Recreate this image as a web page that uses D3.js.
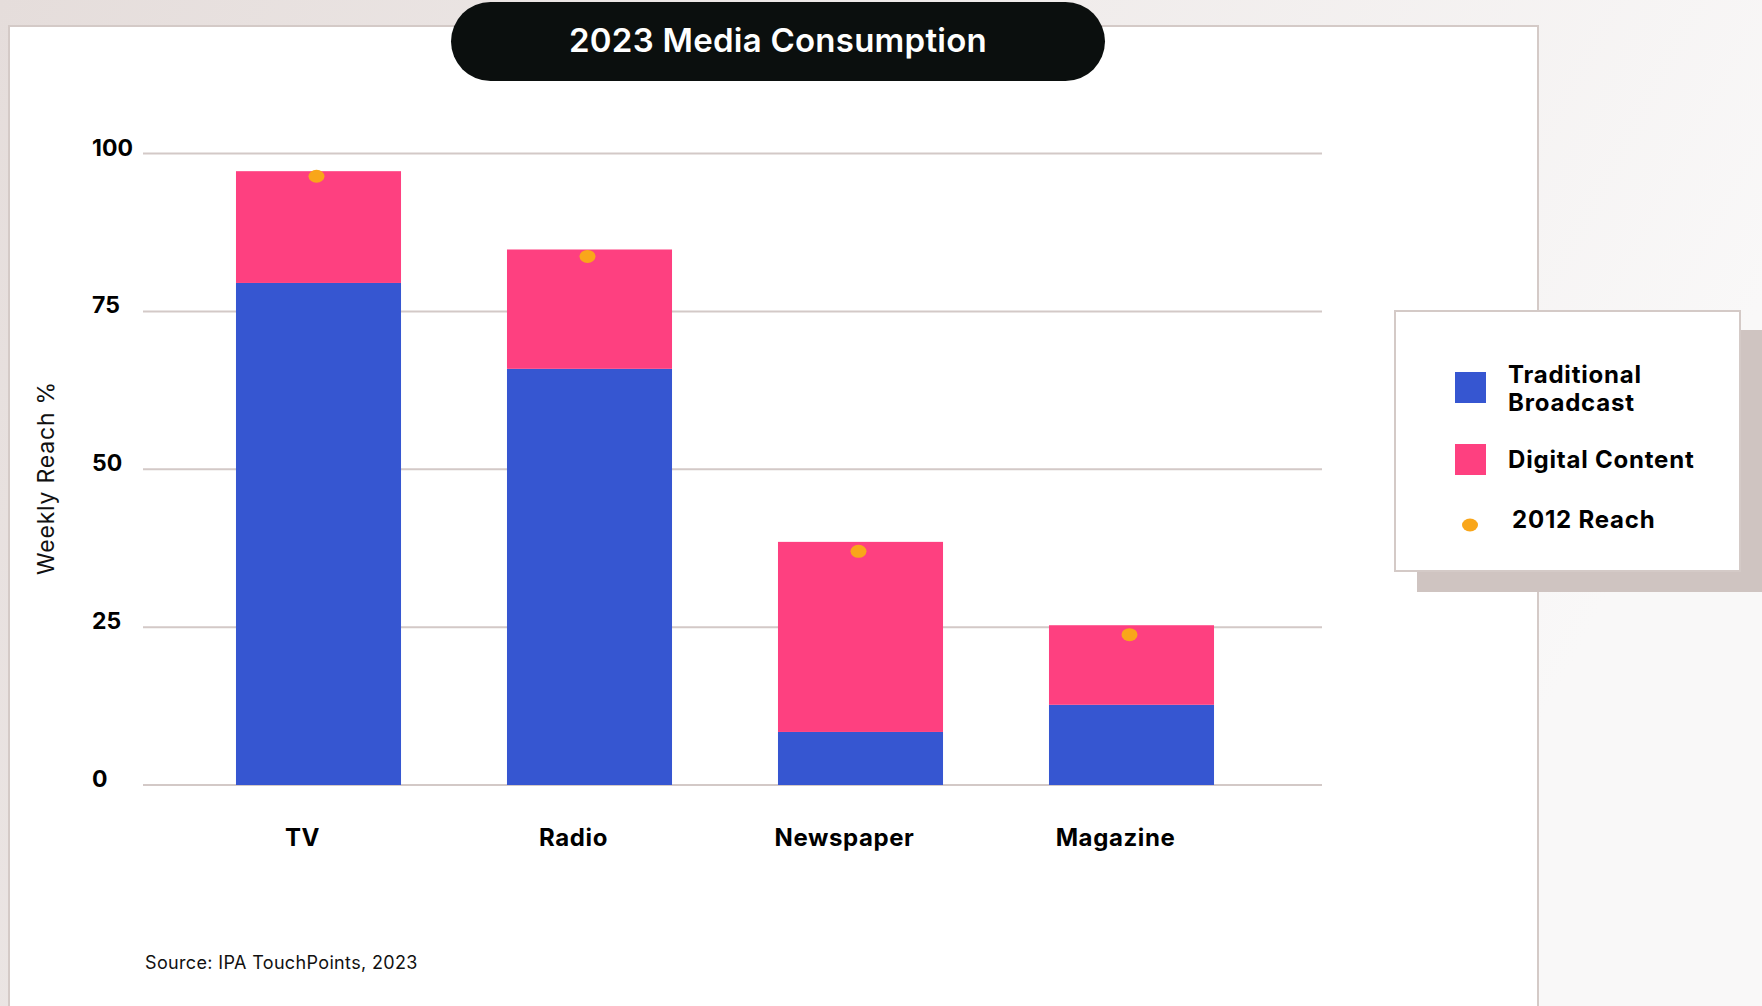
<!DOCTYPE html>
<html>
<head>
<meta charset="utf-8">
<script src="https://cdn.jsdelivr.net/npm/d3@7"></script>
<style>
  html, body { margin: 0; padding: 0; }
  body { width: 1762px; height: 1006px; overflow: hidden; }
  svg { display: block; }
</style>
</head>
<body>
<svg id="chart" width="1762" height="1006"></svg>
<script>
// Weekly reach by medium, 2023 (percent)
const categories = ["TV", "Radio", "Newspaper", "Magazine"];
const traditional = [79.5, 65.9, 8.4, 12.7];
const digital = [17.7, 18.9, 30.1, 12.6];
const reach2012 = [96.4, 83.7, 37.0, 23.8];
const yTicks = [0, 25, 50, 75, 100];
const seriesNames = ["Traditional Broadcast", "Digital Content", "2012 Reach"];

const colors = { traditional: "#3656D1", digital: "#FE4080", dot: "#F9A61A", grid: "#D3C9C7" };
const FONT = "Inter, 'Noto Sans', sans-serif";

const svg = d3.select("#chart");

// page background gradient
const defs = svg.append("defs");
const bg = defs.append("linearGradient").attr("id", "bg").attr("x1", "0").attr("y1", "0").attr("x2", "1").attr("y2", "0.3");
bg.append("stop").attr("offset", "0").attr("stop-color", "#E5DDDB");
bg.append("stop").attr("offset", "1").attr("stop-color", "#F9F8F8");
svg.append("rect").attr("width", 1762).attr("height", 1006).attr("fill", "url(#bg)");

// white card
svg.append("rect").attr("x", 9).attr("y", 26).attr("width", 1529).attr("height", 1000)
  .attr("fill", "#fff").attr("stroke", "#D4CAC7").attr("stroke-width", 2);

// title pill
svg.append("rect").attr("x", 451).attr("y", 2).attr("width", 654).attr("height", 79)
  .attr("rx", 39.5).attr("fill", "#0B0F0E");
svg.append("text").attr("x", 778).attr("y", 52).attr("text-anchor", "middle")
  .attr("font-family", FONT).attr("font-weight", 600).attr("font-size", 33)
  .attr("letter-spacing", 0.25).attr("fill", "#fff")
  .text("2023 Media Consumption");

// scales
const x = d3.scaleBand().domain(categories).range([183, 1267]).paddingInner(0.391).paddingOuter(0.1955);
const y = d3.scaleLinear().domain([0, 100]).range([785, 153.5]);

// gridlines
svg.append("g").selectAll("line").data(yTicks).join("line")
  .attr("x1", 143).attr("x2", 1322)
  .attr("y1", d => y(d)).attr("y2", d => y(d))
  .attr("stroke", colors.grid).attr("stroke-width", 2);

// y tick labels
svg.append("g").selectAll("text").data(yTicks).join("text")
  .attr("x", 92).attr("y", d => y(d) + 2)
  .attr("font-family", FONT).attr("font-weight", 700).attr("font-size", 23).attr("fill", "#000")
  .text(d => d);

// y axis title
svg.append("text").attr("transform", "translate(54,478) rotate(-90)").attr("text-anchor", "middle")
  .attr("font-family", FONT).attr("font-size", 23).attr("letter-spacing", 0.8).attr("fill", "#111")
  .text("Weekly Reach %");

// stacked bars
const rows = categories.map((c, i) => ({ cat: c, trad: traditional[i], dig: digital[i], prev: reach2012[i] }));
const barG = svg.append("g");
barG.selectAll("rect.trad").data(rows).join("rect").attr("class", "trad")
  .attr("x", d => x(d.cat)).attr("width", x.bandwidth())
  .attr("y", d => y(d.trad)).attr("height", d => y(0) - y(d.trad))
  .attr("fill", colors.traditional);
barG.selectAll("rect.dig").data(rows).join("rect").attr("class", "dig")
  .attr("x", d => x(d.cat)).attr("width", x.bandwidth())
  .attr("y", d => y(d.trad + d.dig)).attr("height", d => y(d.trad) - y(d.trad + d.dig))
  .attr("fill", colors.digital);

// 2012 reach markers
barG.selectAll("ellipse").data(rows).join("ellipse")
  .attr("cx", d => x(d.cat) + x.bandwidth() / 2 - 2).attr("cy", d => y(d.prev))
  .attr("rx", 8).attr("ry", 6.5).attr("fill", colors.dot);

// category labels
svg.append("g").selectAll("text").data(categories).join("text")
  .attr("x", d => x(d) + x.bandwidth() / 2 - 16).attr("y", 846).attr("text-anchor", "middle")
  .attr("font-family", FONT).attr("font-weight", 700).attr("font-size", 24)
  .attr("letter-spacing", 0.6).attr("fill", "#000")
  .text(d => d);

// source note
svg.append("text").attr("x", 145).attr("y", 969)
  .attr("font-family", FONT).attr("font-size", 18).attr("letter-spacing", 0.35).attr("fill", "#111")
  .text("Source: IPA TouchPoints, 2023");

// legend with offset shadow
const lg = svg.append("g");
lg.append("rect").attr("x", 1417).attr("y", 330).attr("width", 360).attr("height", 262).attr("fill", "#CFC4C1");
lg.append("rect").attr("x", 1395).attr("y", 311).attr("width", 345).attr("height", 260)
  .attr("fill", "#fff").attr("stroke", "#D4CAC7").attr("stroke-width", 2);
lg.append("rect").attr("x", 1455).attr("y", 372).attr("width", 31).attr("height", 31).attr("fill", colors.traditional);
lg.append("rect").attr("x", 1455).attr("y", 444).attr("width", 31).attr("height", 31).attr("fill", colors.digital);
lg.append("ellipse").attr("cx", 1470).attr("cy", 525).attr("rx", 8).attr("ry", 6.5).attr("fill", colors.dot);
const lt = lg.append("g").attr("font-family", FONT).attr("font-weight", 700).attr("font-size", 24)
  .attr("letter-spacing", 0.8).attr("fill", "#000");
lt.append("text").attr("x", 1508).attr("y", 383).text(seriesNames[0].split(" ")[0]);
lt.append("text").attr("x", 1508).attr("y", 411).text(seriesNames[0].split(" ")[1]);
lt.append("text").attr("x", 1508).attr("y", 468).text(seriesNames[1]);
lt.append("text").attr("x", 1512).attr("y", 528).text(seriesNames[2]);
</script>
</body>
</html>
